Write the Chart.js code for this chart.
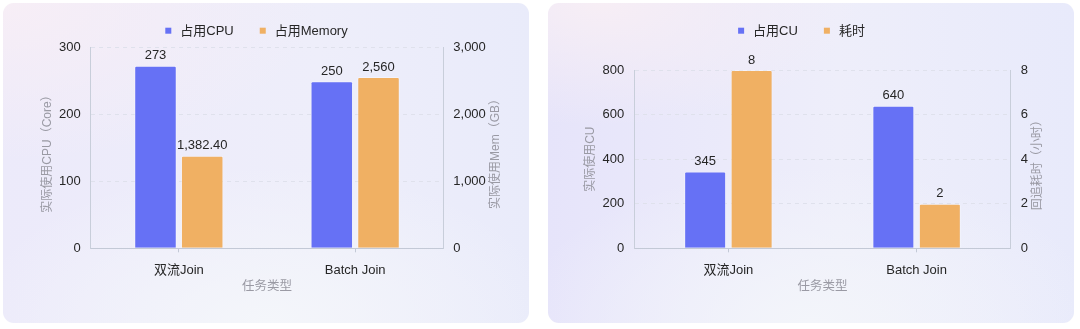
<!DOCTYPE html>
<html><head><meta charset="utf-8">
<script src="https://cdn.jsdelivr.net/npm/chart.js@4.4.1/dist/chart.umd.min.js"></script>
<style>
html,body{margin:0;padding:0;background:#fff;width:1080px;height:329px;overflow:hidden;}
.card{position:absolute;top:3px;width:526px;height:320px;border-radius:11px;overflow:hidden;}
#card1{left:3px;background:
 radial-gradient(110% 90% at 0% 0%, rgba(247,238,246,1) 0%, rgba(247,238,246,0) 55%),
 radial-gradient(80% 70% at 50% 100%, rgba(244,246,250,1) 0%, rgba(244,246,250,0) 70%),
 linear-gradient(90deg, #ECEAFA 0%, #EEEEFA 60%, #E9EBFA 100%);}
#card2{left:548px;background:
 radial-gradient(90% 70% at 10% 0%, rgba(247,238,245,1) 0%, rgba(247,238,245,0) 55%),
 radial-gradient(80% 70% at 50% 100%, rgba(243,245,250,1) 0%, rgba(243,245,250,0) 70%),
 linear-gradient(90deg, #E6E4FA 0%, #EEEEFA 55%, #E8EAFB 100%);}
canvas{position:absolute;left:0;top:0;}
</style></head><body>
<div class="card" id="card1"><canvas id="chart1" width="526" height="320"></canvas></div>
<div class="card" id="card2"><canvas id="chart2" width="526" height="320"></canvas></div>
<script>
// ---- data ----
const categories = ['双流Join', 'Batch Join'];
const xAxisTitle = '任务类型';

const seriesNames1 = ['占用CPU', '占用Memory'];
const cpuValues = [273, 250];
const memoryValues = [1382.4, 2560];
const cpuTicks = [0, 100, 200, 300];
const memoryTicks = [0, 1000, 2000, 3000];
const yTitles1 = ['实际使用CPU（Core）', '实际使用Mem（GB）'];

const seriesNames2 = ['占用CU', '耗时'];
const cuValues = [345, 640];
const timeValues = [8, 2];
const cuTicks = [0, 200, 400, 600, 800];
const timeTicks = [0, 2, 4, 6, 8];
const yTitles2 = ['实际使用CU', '回追耗时（小时）'];

// ---- style ----
const FONT = "'Liberation Sans', 'Noto Sans CJK SC', sans-serif";
const BLUE = '#6671F5';
const ORANGE = '#F0B063';
const TEXT = '#262626';
const MUTED = '#9A9AA4';

function legendPlugin(cx, cy) {
  return {
    id: 'topLegend',
    afterDraw(chart) {
      const ctx = chart.ctx;
      const box = 6, gap = 9, spacing = 26;
      ctx.save();
      ctx.font = '13px ' + FONT;
      const items = chart.data.datasets.map(d => ({text: d.label, color: d.backgroundColor, w: ctx.measureText(d.label).width}));
      let total = 0;
      items.forEach((it, i) => { total += box + gap + it.w + (i ? spacing : 0); });
      let x = cx - total / 2;
      ctx.textBaseline = 'middle';
      ctx.textAlign = 'left';
      items.forEach(it => {
        ctx.fillStyle = it.color;
        ctx.fillRect(x, cy - box / 2, box, box);
        x += box + gap;
        ctx.fillStyle = TEXT;
        ctx.fillText(it.text, x, cy + 0.5);
        x += it.w + spacing;
      });
      ctx.restore();
    }
  };
}

const valueLabels = {
  id: 'valueLabels',
  afterDatasetsDraw(chart) {
    const ctx = chart.ctx;
    ctx.save();
    ctx.font = '13px ' + FONT;
    ctx.fillStyle = TEXT;
    ctx.textAlign = 'center';
    ctx.textBaseline = 'middle';
    chart.data.datasets.forEach((ds, di) => {
      chart.getDatasetMeta(di).data.forEach((bar, i) => {
        const v = ds.data[i];
        const s = v.toLocaleString('en-US', {minimumFractionDigits: Number.isInteger(v) ? 0 : 2, maximumFractionDigits: 2});
        ctx.fillText(s, bar.x, bar.y - 10);
      });
    });
    ctx.restore();
  }
};

function yTitlePlugin(items) {
  return {
    id: 'yTitles',
    afterDraw(chart) {
      const ctx = chart.ctx, a = chart.chartArea;
      ctx.save();
      ctx.font = '12px ' + FONT;
      ctx.fillStyle = MUTED;
      ctx.textAlign = 'center';
      ctx.textBaseline = 'middle';
      items.forEach(t => {
        ctx.save();
        ctx.translate(t.x, (a.top + a.bottom) / 2 + t.dy);
        ctx.rotate(-Math.PI / 2);
        ctx.fillText(t.text, 0, 0);
        ctx.restore();
      });
      ctx.restore();
    }
  };
}

function yScale(ticks, position, width, gridOn) {
  return {
    position: position,
    min: ticks[0],
    max: ticks[ticks.length - 1],
    ticks: {stepSize: ticks[1] - ticks[0], padding: 10, color: TEXT, font: {size: 13, family: FONT}},
    grid: {drawOnChartArea: gridOn, drawTicks: false, color: '#DFE1EC', lineWidth: 1},
    border: {display: true, color: '#C8CEDA', dash: [4, 4]},
    afterFit(s) { s.width = width; }
  };
}

function xScale() {
  return {
    ticks: {color: TEXT, padding: 10, font: {size: 13, family: FONT}},
    grid: {offset: false, drawOnChartArea: false, drawTicks: true, tickLength: 4, color: '#C3C9D6'},
    border: {display: true, color: '#C3C9D6'},
    title: {display: true, text: xAxisTitle, color: MUTED, font: {size: 12.5, family: FONT}, padding: {top: 0, bottom: 9.8}},
    afterFit(s) { s.height = 56; }
  };
}

function makeChart(id, names, v1, v2, t1, t2, titles, cfg) {
  const dsBase = {borderRadius: 2, borderWidth: 1, borderColor: 'rgba(255,255,255,0.35)', borderSkipped: 'bottom',
    categoryPercentage: cfg.cp, barPercentage: cfg.bp};
  return new Chart(document.getElementById(id), {
    type: 'bar',
    data: {
      labels: categories,
      datasets: [
        Object.assign({label: names[0], data: v1, backgroundColor: BLUE, yAxisID: 'y'}, dsBase),
        Object.assign({label: names[1], data: v2, backgroundColor: ORANGE, yAxisID: 'y1'}, dsBase)
      ]
    },
    options: {
      responsive: false,
      animation: false,
      locale: 'en-US',
      events: [],
      layout: {padding: {top: cfg.top, left: 0, right: 0, bottom: 18.7}},
      plugins: {legend: {display: false}, tooltip: {enabled: false}, title: {display: false}},
      scales: {
        x: xScale(),
        y: yScale(t1, 'left', cfg.lw, true),
        y1: yScale(t2, 'right', cfg.rw, false)
      }
    },
    plugins: [legendPlugin(253.5, 27.7), valueLabels, yTitlePlugin([
      {text: titles[0], x: cfg.ltx, dy: cfg.ldy},
      {text: titles[1], x: cfg.rtx, dy: cfg.rdy}
    ])]
  });
}

makeChart('chart1', seriesNames1, cpuValues, memoryValues, cpuTicks, memoryTicks, yTitles1,
  {cp: 0.53, bp: 0.91, top: 44.7, lw: 87.7, rw: 85.7, ltx: 44.7, ldy: 3, rtx: 492.7, rdy: 3});
makeChart('chart2', seriesNames2, cuValues, timeValues, cuTicks, timeTicks, yTitles2,
  {cp: 0.494, bp: 0.903, top: 67, lw: 86.3, rw: 63.3, ltx: 42.7, ldy: 0, rtx: 489.7, rdy: 3});
</script>
</body></html>
